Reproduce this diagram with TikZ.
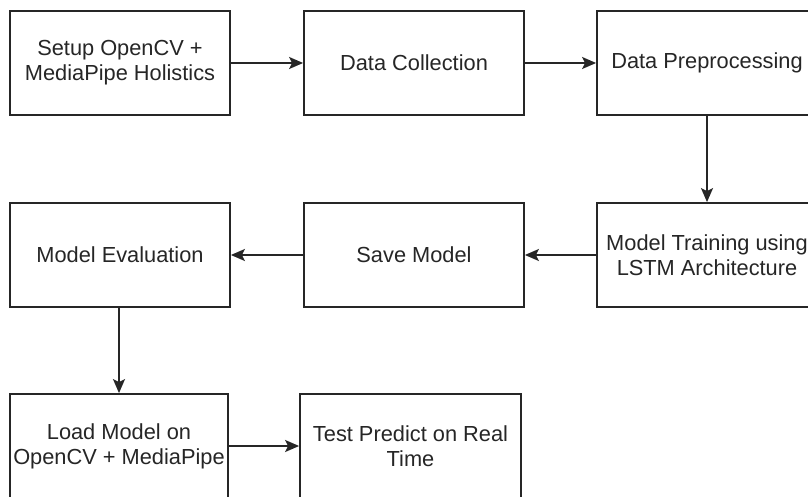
\documentclass[tikz,border=0pt]{standalone}
\usepackage{fontspec}
\setmainfont{Liberation Sans}
\usetikzlibrary{arrows.meta}
\begin{document}
\begin{tikzpicture}[x=1bp,y=-1bp,
  stepbox/.style={draw=black!85, line width=1.8bp, minimum width=220bp, minimum height=104bp,
    align=center, inner sep=0pt, font=\fontsize{21.8bp}{25bp}\selectfont, text=black!85},
  flow/.style={draw=black!85, line width=1.8bp, -{Stealth[length=14bp,width=12bp,inset=3bp]}}]
\useasboundingbox (0,0) rectangle (808,497);
\fill[white] (0,0) rectangle (808,497);
\clip (0,0) rectangle (808,497);
\node[stepbox] (setup) at (120,63) {Setup OpenCV +\\MediaPipe Holistics};
\node[stepbox] (collect) at (414,63) {Data Collection};
\node[stepbox] (prep) at (707,63) {Data Preprocessing};
\node[stepbox] (train) at (707,255) {Model Training using\\LSTM Architecture};
\node[stepbox] (save) at (414,255) {Save Model};
\node[stepbox] (eval) at (120,255) {Model Evaluation};
\node[stepbox, minimum width=218bp] (load) at (119,446) {Load Model on\\OpenCV + MediaPipe};
\node[stepbox, minimum width=221bp] (test) at (410.5,446) {Test Predict on Real\\Time};
\draw[flow] (setup) -- (collect);
\draw[flow] (collect) -- (prep);
\draw[flow] (prep) -- (train);
\draw[flow] (train) -- (save);
\draw[flow] (save) -- (eval);
\draw[flow] (eval.south -| load.north) -- (load.north);
\draw[flow] (load) -- (test);
\end{tikzpicture}
\end{document}
